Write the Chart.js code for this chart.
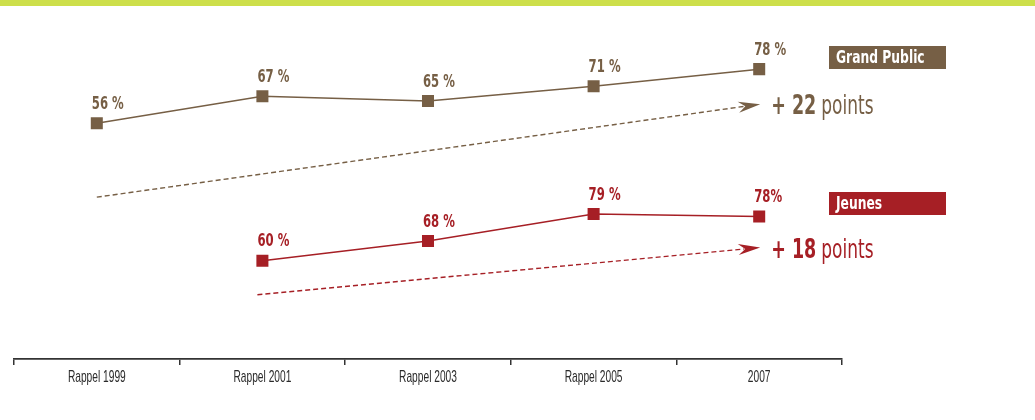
<!DOCTYPE html>
<html>
<head>
<meta charset="utf-8">
<script src="https://cdn.jsdelivr.net/npm/chart.js@4/dist/chart.umd.min.js"></script>
<style>
  html, body { margin: 0; padding: 0; background: #fff; }
  #topbar { position: absolute; left: 0; top: 0; width: 1035px; height: 6px; background: #cddf4b; }
  #wrap { position: absolute; left: 0; top: 0; width: 1035px; height: 420px; }
</style>
</head>
<body>
<div id="topbar"></div>
<div id="wrap"><canvas id="chart"></canvas></div>
<script>
const categories = ['Rappel 1999', 'Rappel 2001', 'Rappel 2003', 'Rappel 2005', '2007'];
const grandPublic = [56, 67, 65, 71, 78];
const jeunes = [null, 60, 68, 79, 78];
const gpLabels = ['56 %', '67 %', '65 %', '71 %', '78 %'];
const jeunesLabels = [null, '60 %', '68 %', '79 %', '78%'];
const gains = ['+ 22', '+ 18'];
const seriesNames = ['Grand Public', 'Jeunes'];

const BROWN = '#765f45';
const RED = '#a61f25';
const FONT = '"DejaVu Sans Condensed", "Liberation Sans", sans-serif';

// condensed text: the narrow face of the original is not installed
function narrowText(ctx, text, x, y, sx) {
  ctx.save();
  ctx.translate(x, y);
  ctx.scale(sx, 1);
  ctx.fillText(text, 0, 0);
  ctx.restore();
  return ctx.measureText(text).width * sx;
}

const annotations = {
  id: 'annotations',
  afterDatasetsDraw(chart) {
    const ctx = chart.ctx;
    const gp = chart.getDatasetMeta(0).data;
    const je = chart.getDatasetMeta(1).data;

    ctx.save();
    ctx.textBaseline = 'middle';
    ctx.textAlign = 'left';

    // value labels
    ctx.font = 'bold 18px ' + FONT;
    gp.forEach((p, i) => {
      ctx.fillStyle = BROWN;
      narrowText(ctx, gpLabels[i], p.x - 5, p.y - 19, 0.72);
    });
    je.forEach((p, i) => {
      if (jeunes[i] == null) return;
      ctx.fillStyle = RED;
      narrowText(ctx, jeunesLabels[i], p.x - 5, p.y - 19, 0.72);
    });

    // dashed trend arrows
    function arrow(x0, y0, x1, y1, color) {
      const ang = Math.atan2(y1 - y0, x1 - x0);
      const c = Math.cos(ang), s = Math.sin(ang);
      const bx = x1 - 22 * c, by = y1 - 22 * s;
      ctx.strokeStyle = color;
      ctx.lineWidth = 1.4;
      ctx.setLineDash([5, 3]);
      ctx.beginPath();
      ctx.moveTo(x0, y0);
      ctx.lineTo(bx + 6 * c, by + 6 * s);
      ctx.stroke();
      ctx.setLineDash([]);
      ctx.fillStyle = color;
      ctx.beginPath();
      ctx.moveTo(x1, y1);
      ctx.lineTo(bx - 5.5 * s, by + 5.5 * c);
      ctx.lineTo(bx + 7 * c, by + 7 * s);
      ctx.lineTo(bx + 5.5 * s, by - 5.5 * c);
      ctx.closePath();
      ctx.fill();
    }
    const gLast = gp[gp.length - 1], jLast = je[je.length - 1];
    arrow(gp[0].x, gp[0].y + 74, gLast.x + 1, gLast.y + 35, BROWN);
    arrow(je[1].x - 5, je[1].y + 34, jLast.x + 1, jLast.y + 31, RED);

    // gain texts
    function gain(text, x, y, color) {
      ctx.fillStyle = color;
      ctx.font = 'bold 27px ' + FONT;
      const w = narrowText(ctx, text, x, y, 0.72);
      ctx.font = '27px ' + FONT;
      narrowText(ctx, 'points', x + w + 5, y, 0.7);
    }
    gain(gains[0], gLast.x + 12, gLast.y + 38, BROWN);
    gain(gains[1], jLast.x + 12, jLast.y + 34, RED);

    // series boxes
    function box(text, y, color) {
      const x = chart.chartArea.right - 13;
      ctx.fillStyle = color;
      ctx.fillRect(x, y, 117, 23);
      ctx.fillStyle = '#fff';
      ctx.font = 'bold 18px ' + FONT;
      narrowText(ctx, text, x + 7, y + 12, 0.76);
    }
    box(seriesNames[0], 46, BROWN);
    box(seriesNames[1], 192, RED);

    // category labels, condensed, at the scale's own tick positions
    const xs = chart.scales.x;
    ctx.fillStyle = '#2a2a2a';
    ctx.font = '17px "Liberation Sans", sans-serif';
    categories.forEach((c, i) => {
      const w = ctx.measureText(c).width * 0.6;
      narrowText(ctx, c, xs.getPixelForTick(i) - w / 2, xs.top + 18, 0.6);
    });
    ctx.restore();
  }
};

new Chart(document.getElementById('chart'), {
  type: 'line',
  data: {
    labels: categories,
    datasets: [
      {
        label: seriesNames[0],
        data: grandPublic,
        yAxisID: 'yGp',
        borderColor: BROWN,
        backgroundColor: BROWN,
        borderWidth: 1.5,
        pointStyle: 'rect',
        pointRadius: 8.5,
        pointBorderWidth: 0,
        tension: 0
      },
      {
        label: seriesNames[1],
        data: jeunes,
        yAxisID: 'yJe',
        borderColor: RED,
        backgroundColor: RED,
        borderWidth: 1.5,
        pointStyle: 'rect',
        pointRadius: 8.5,
        pointBorderWidth: 0,
        tension: 0
      }
    ]
  },
  options: {
    responsive: true,
    maintainAspectRatio: false,
    animation: false,
    layout: { padding: { left: 14, right: 193, top: 20, bottom: 31 } },
    plugins: { legend: { display: false }, tooltip: { enabled: false } },
    scales: {
      x: {
        offset: true,
        grid: { offset: true, drawOnChartArea: false, tickLength: 6, color: '#333', lineWidth: 1.5 },
        border: { display: true, color: '#333', width: 1.8 },
        ticks: { color: 'rgba(0,0,0,0)', font: { family: FONT, size: 15 }, padding: 3 }
      },
      yGp: { display: false, min: -40, max: 98 },
      yJe: { display: false, min: 20, max: 158 }
    }
  },
  plugins: [annotations]
});
</script>
</body>
</html>
